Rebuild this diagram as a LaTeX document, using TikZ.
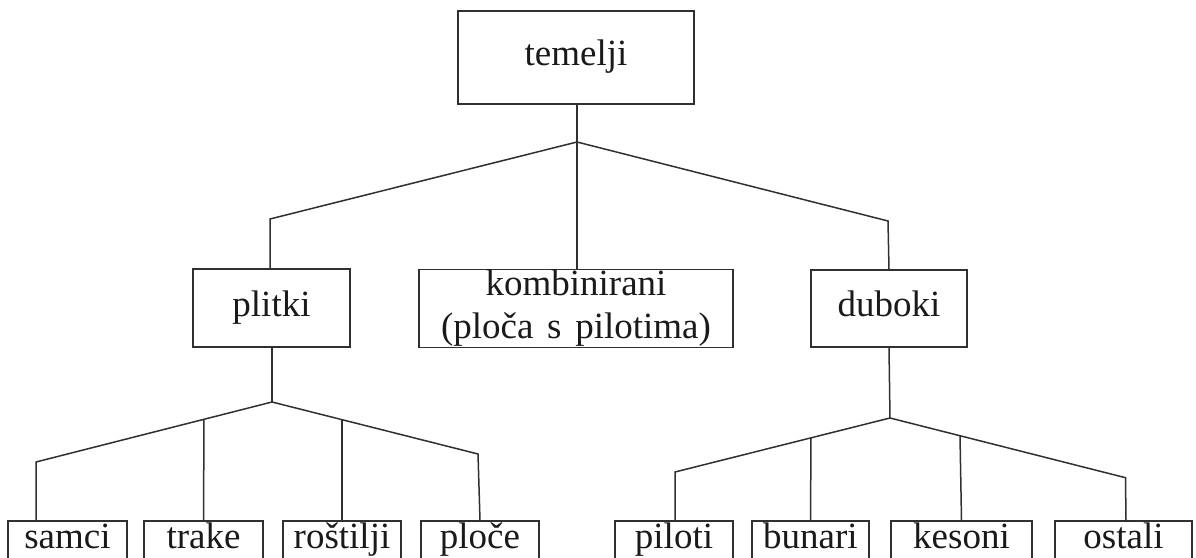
\documentclass[tikz,border=0pt]{standalone}
\usepackage{fontspec}
\setmainfont{Liberation Serif}
\definecolor{linec}{HTML}{303030}
\definecolor{textc}{HTML}{1A1A1A}
\newcommand{\bigfnt}{\fontsize{37bp}{43bp}\selectfont}
\begin{document}
\begin{tikzpicture}[x=1bp,y=-1bp,
  box/.style={draw=linec, line width=1.5bp, inner sep=0pt, align=center, font=\bigfnt, text=textc},
  topbox/.style={box, text height=25bp, text depth=8bp},
  leaf/.style={box, text height=27bp, text depth=30bp, anchor=base},
  conn/.style={draw=linec, line width=1.5bp}]
\useasboundingbox (0,0) rectangle (1196,558);
\clip (0,0) rectangle (1196,558);
% level 0
\node[topbox, minimum width=236bp, minimum height=93bp] (tem) at (576,57.5) {temelji};
% level 1
\node[topbox, minimum width=157bp, minimum height=78bp] (plit) at (271.5,308) {plitki};
\node[box, minimum width=314bp, minimum height=78bp] (komb) at (576,308.5) {kombinirani\\(ploča\hspace{0.12em} s\hspace{0.12em} pilotima)};
\node[topbox, minimum width=156bp, minimum height=77bp] (dub) at (889,308.5) {duboki};
% level 2
\node[leaf, minimum width=119bp] (sam) at (67.5,548) {samci};
\node[leaf, minimum width=119bp] (tra) at (203.5,548) {trake};
\node[leaf, minimum width=118bp] (ros) at (342,548) {roštilji};
\node[leaf, minimum width=118bp] (plo) at (480,548) {ploče};
\node[leaf, minimum width=118bp] (pil) at (674,548) {piloti};
\node[leaf, minimum width=117bp] (bun) at (810.5,548) {bunari};
\node[leaf, minimum width=141bp] (kes) at (961.5,548) {kesoni};
\node[leaf, minimum width=137bp] (ost) at (1123.5,548) {ostali};
% junctions and elbows
\coordinate (j0) at (577,142);
\coordinate (e0l) at (270,219);
\coordinate (e0r) at (888,221);
\coordinate (j1) at (272,402);
\coordinate (e1l) at (36,462);
\coordinate (e1r) at (478,454);
\coordinate (t1) at (204,419.3);
\coordinate (r1) at (342,419.7);
\coordinate (j2) at (890,418);
\coordinate (e2l) at (675,472);
\coordinate (e2r) at (1125.5,477.7);
\coordinate (b2) at (811,437.8);
\coordinate (k2) at (960,435.7);
% connectors
\draw[conn] (tem.south -| j0) -- (komb.north -| j0);
\draw[conn] (j0) -- (e0l) -- (e0l |- plit.north);
\draw[conn] (j0) -- (e0r) -- (dub.north);
\draw[conn] (plit.south -| j1) -- (j1);
\draw[conn] (j1) -- (e1l) -- (e1l |- sam.north);
\draw[conn] (j1) -- (e1r) -- (plo.north);
\draw[conn] (t1) -- (tra.north);
\draw[conn] (r1) -- (ros.north);
\draw[conn] (dub.south) -- (j2);
\draw[conn] (j2) -- (e2l) -- (e2l |- pil.north);
\draw[conn] (j2) -- (e2r) -- ([xshift=0.5bp]e2r |- ost.north);
\draw[conn] (b2) -- (bun.north);
\draw[conn] (k2) -- (kes.north);
\end{tikzpicture}
\end{document}
